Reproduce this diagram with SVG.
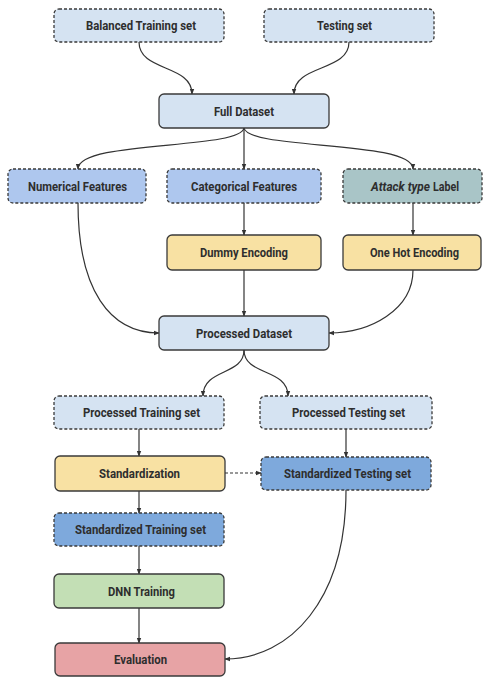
<svg xmlns="http://www.w3.org/2000/svg" width="483" height="679" viewBox="0 0 483 679">
<style>
.b{stroke:#3a3a3a;stroke-width:1.3}
.d{stroke-dasharray:3 2}
.lb{fill:#d5e3f2}
.mb{fill:#aec7ee}
.tb{fill:#a9c5c7}
.yb{fill:#f8e1a3}
.db{fill:#7ea9dc}
.gb{fill:#c3dfb5}
.rb{fill:#e7a3a5}
text{font-family:Roboto,"Liberation Sans",sans-serif;font-weight:bold;font-size:12.5px;fill:#2e2e2e;text-anchor:middle;dominant-baseline:central}
text.s{text-anchor:start}
.c{fill:none;stroke:#333;stroke-width:1.2;marker-end:url(#a)}
</style>
<defs>
<marker id="a" viewBox="0 0 8 8" refX="7" refY="4" markerWidth="6" markerHeight="6" orient="auto" markerUnits="userSpaceOnUse">
<path d="M0,1 L8,4 L0,7 Z" fill="#333"/>
</marker>
</defs>
<g id="connectors">
<path class="c" d="M139,42 C139,72 192,64 192,94"/>
<path class="c" d="M349,42 C349,72 294,64 294,94"/>
<path class="c" d="M244,128 C240,150 78,140 78,169"/>
<path class="c" d="M244,128 L244,169"/>
<path class="c" d="M244,128 C248,150 413,140 413,169"/>
<path class="c" d="M78,203 C78,290 110,333 159,333"/>
<path class="c" d="M244,203 L244,235"/>
<path class="c" d="M413,203 L413,235"/>
<path class="c" d="M244,270 L244,316"/>
<path class="c" d="M413,270 C413,310 370,333 329,333"/>
<path class="c" d="M244,350 C244,376 203,368 203,396"/>
<path class="c" d="M244,350 C244,376 288,368 288,396"/>
<path class="c" d="M139,429 L139,456"/>
<path class="c" d="M346,429 L346,457"/>
<path class="c" d="M225,473 L261,473" stroke-dasharray="3 2"/>
<path class="c" d="M139,491 L139,513"/>
<path class="c" d="M139,546 L139,574"/>
<path class="c" d="M139,608 L139,643"/>
<path class="c" d="M346,490 C346,600 290,659 225,659"/>
</g>
<g id="balanced"><rect class="b d lb" x="54" y="9" width="170" height="33" rx="5"/><text x="141" y="25.5" textLength="110" lengthAdjust="spacingAndGlyphs">Balanced Training set</text></g>
<g id="testing"><rect class="b d lb" x="264" y="9" width="170" height="33" rx="5"/><text x="344.5" y="25.5" textLength="55" lengthAdjust="spacingAndGlyphs">Testing set</text></g>
<g id="full"><rect class="b lb" x="159" y="94" width="170" height="34" rx="5"/><text x="244" y="111" textLength="60" lengthAdjust="spacingAndGlyphs">Full Dataset</text></g>
<g id="numerical"><rect class="b d mb" x="8" y="169" width="138" height="34" rx="5"/><text x="77.5" y="186" textLength="99" lengthAdjust="spacingAndGlyphs">Numerical Features</text></g>
<g id="categorical"><rect class="b d mb" x="167" y="169" width="154" height="34" rx="5"/><text x="244" y="186" textLength="106" lengthAdjust="spacingAndGlyphs">Categorical Features</text></g>
<g id="attack"><rect class="b d tb" x="343" y="169" width="139" height="34" rx="5"/><text class="s" x="371" y="186" font-style="italic" textLength="59" lengthAdjust="spacingAndGlyphs">Attack type</text><text class="s" x="433" y="186" textLength="26" lengthAdjust="spacingAndGlyphs">Label</text></g>
<g id="dummy"><rect class="b yb" x="167" y="235" width="154" height="35" rx="5"/><text x="244" y="252.5" textLength="88" lengthAdjust="spacingAndGlyphs">Dummy Encoding</text></g>
<g id="onehot"><rect class="b yb" x="343" y="235" width="138" height="35" rx="5"/><text x="414.5" y="252.5" textLength="89" lengthAdjust="spacingAndGlyphs">One Hot Encoding</text></g>
<g id="processed"><rect class="b lb" x="159" y="316" width="170" height="34" rx="5"/><text x="244" y="333" textLength="96" lengthAdjust="spacingAndGlyphs">Processed Dataset</text></g>
<g id="ptrain"><rect class="b d lb" x="54" y="396" width="170" height="33" rx="5"/><text x="141.5" y="412.5" textLength="117" lengthAdjust="spacingAndGlyphs">Processed Training set</text></g>
<g id="ptest"><rect class="b d lb" x="260" y="396" width="172" height="33" rx="5"/><text x="348.5" y="412.5" textLength="113" lengthAdjust="spacingAndGlyphs">Processed Testing set</text></g>
<g id="standardization"><rect class="b yb" x="55" y="456" width="170" height="35" rx="5"/><text x="139.5" y="473.5" textLength="81" lengthAdjust="spacingAndGlyphs">Standardization</text></g>
<g id="stest"><rect class="b d db" x="261" y="457" width="170" height="33" rx="5"/><text x="347.5" y="473.5" textLength="127" lengthAdjust="spacingAndGlyphs">Standardized Testing set</text></g>
<g id="strain"><rect class="b d db" x="54" y="513" width="170" height="33" rx="5"/><text x="140.5" y="529.5" textLength="131" lengthAdjust="spacingAndGlyphs">Standardized Training set</text></g>
<g id="dnn"><rect class="b gb" x="54" y="574" width="170" height="34" rx="5"/><text x="141.5" y="591" textLength="67" lengthAdjust="spacingAndGlyphs">DNN Training</text></g>
<g id="evaluation"><rect class="b rb" x="55" y="643" width="170" height="33" rx="5"/><text x="140.5" y="659.5" textLength="53" lengthAdjust="spacingAndGlyphs">Evaluation</text></g>
</svg>
